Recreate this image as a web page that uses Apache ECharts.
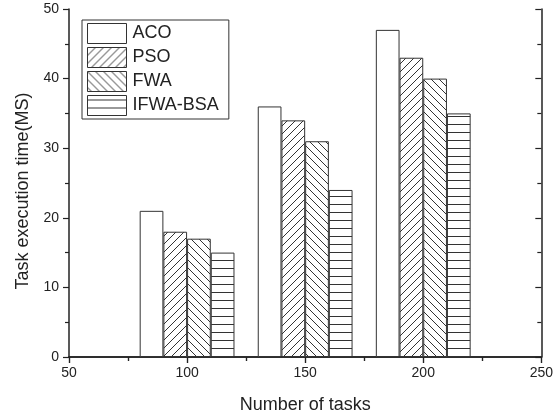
<!DOCTYPE html>
<html>
<head>
<meta charset="utf-8">
<script src="https://cdn.jsdelivr.net/npm/echarts@6/dist/echarts.min.js"></script>
<style>
  html, body { margin: 0; padding: 0; background: #fff; }
  #chart { width: 556px; height: 419px; }
</style>
</head>
<body>
<div id="chart"></div>
<script>
const tasks = [100, 150, 200]
const seriesNames = ['ACO', 'PSO', 'FWA', 'IFWA-BSA']
const aco = [21, 36, 47]
const pso = [18, 34, 43]
const fwa = [17, 31, 40]
const ifwa = [15, 24, 35]
const values = [aco, pso, fwa, ifwa]
const hatches = ['none', 'fwd', 'back', 'horiz']

const ink = '#222'

function hatch(kind) {
  const c = document.createElement('canvas')
  c.width = c.height = 8
  const g = c.getContext('2d')
  g.fillStyle = '#fff'
  g.fillRect(0, 0, 8, 8)
  if (kind === 'none') return c
  g.strokeStyle = '#333'
  g.lineWidth = 1
  g.beginPath()
  if (kind === 'fwd') {
    g.moveTo(-1, 9); g.lineTo(9, -1)
    g.moveTo(-1, 1); g.lineTo(1, -1)
    g.moveTo(7, 9); g.lineTo(9, 7)
  } else if (kind === 'back') {
    g.moveTo(-1, -1); g.lineTo(9, 9)
    g.moveTo(7, -1); g.lineTo(9, 1)
    g.moveTo(-1, 7); g.lineTo(1, 9)
  } else {
    g.moveTo(0, 4.5); g.lineTo(8, 4.5)
  }
  g.stroke()
  return c
}

const chart = echarts.init(document.getElementById('chart'))

const font = 'Arial, "Liberation Sans", sans-serif'
const baseAxis = {
  type: 'value',
  axisLine: { show: true, lineStyle: { color: ink, width: 1.5 } },
  splitLine: { show: false },
}

chart.setOption({
  animation: false,
  textStyle: { fontFamily: font, color: ink },
  grid: { left: 69, right: 13, top: 9, bottom: 62 },
  legend: {
    orient: 'vertical',
    left: 82, top: 20,
    icon: 'rect',
    itemWidth: 39, itemHeight: 20, itemGap: 3,
    padding: [3, 10, 3, 5],
    borderColor: '#333', borderWidth: 1,
    itemStyle: { borderColor: '#333', borderWidth: 1 },
    textStyle: { fontSize: 18, color: ink, fontFamily: font, padding: [0, 0, 0, 1] },
    data: seriesNames,
  },
  xAxis: [
    Object.assign({}, baseAxis, {
      min: 50, max: 250, interval: 50,
      name: 'Number of tasks', nameLocation: 'middle', nameGap: 39,
      nameTextStyle: { fontSize: 18, color: ink },
      axisTick: { show: true, length: 6, lineStyle: { color: ink, width: 1.2 } },
      minorTick: { show: true, splitNumber: 2, length: 4, lineStyle: { color: ink, width: 1.2 } },
      axisLabel: { fontSize: 14, color: ink, margin: 9 },
    }),
    Object.assign({}, baseAxis, {
      position: 'top', min: 50, max: 250, interval: 50,
      axisTick: { show: true, inside: true, length: 6, lineStyle: { color: ink, width: 1.2 } },
      minorTick: { show: true, splitNumber: 2, length: 4, lineStyle: { color: ink, width: 1.2 } },
      axisLabel: { show: false },
    }),
  ],
  yAxis: [
    Object.assign({}, baseAxis, {
      min: 0, max: 50, interval: 10,
      name: 'Task execution time(MS)', nameLocation: 'middle', nameGap: 37,
      nameTextStyle: { fontSize: 18, color: ink, padding: [0, 16, 0, 0] },
      axisTick: { show: true, length: 6, lineStyle: { color: ink, width: 1.2 } },
      minorTick: { show: true, splitNumber: 2, length: 4, lineStyle: { color: ink, width: 1.2 } },
      axisLabel: { fontSize: 14, color: ink, margin: 10 },
    }),
    Object.assign({}, baseAxis, {
      position: 'right', min: 0, max: 50, interval: 10,
      axisTick: { show: true, inside: true, length: 6, lineStyle: { color: ink, width: 1.2 } },
      minorTick: { show: true, splitNumber: 2, length: 4, lineStyle: { color: ink, width: 1.2 } },
      axisLabel: { show: false },
    }),
  ],
  series: seriesNames.map((name, i) => ({
    name,
    type: 'bar',
    xAxisIndex: 0,
    yAxisIndex: 0,
    barWidth: 23.7,
    barGap: '0%',
    itemStyle: {
      color: { image: hatch(hatches[i]), repeat: 'repeat' },
      borderColor: '#333',
      borderWidth: 1,
    },
    data: tasks.map((t, j) => [t, values[i][j]]),
  })),
})
</script>
</body>
</html>
